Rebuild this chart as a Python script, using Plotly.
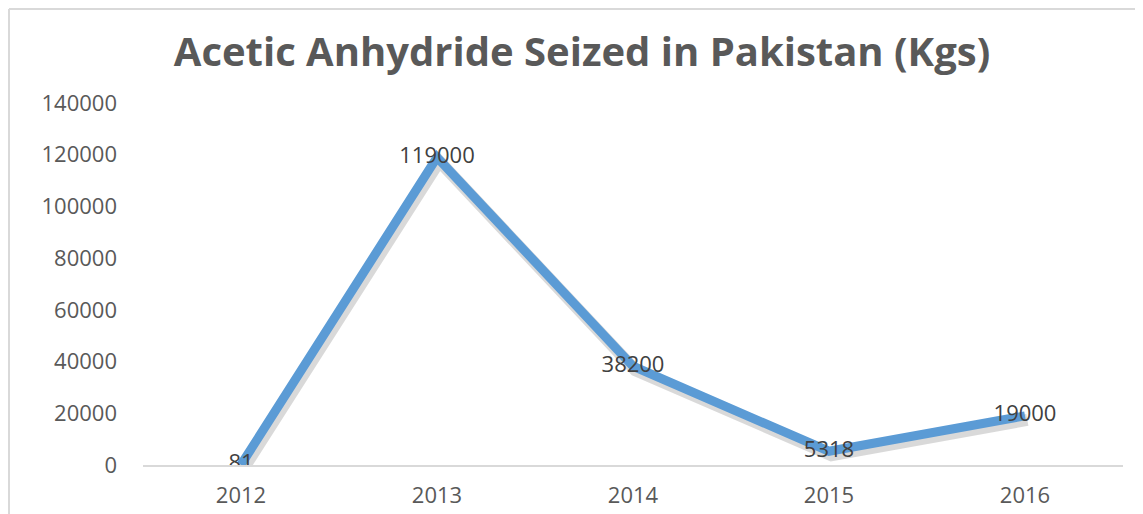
import plotly.graph_objects as go

years = ['2012', '2013', '2014', '2015', '2016']
seized_kgs = [81, 119000, 38200, 5318, 19000]
y_ticks = [0, 20000, 40000, 60000, 80000, 100000, 120000, 140000]

Y_MIN, Y_MAX = 0, 140000
# the page body adds 8px, so the figure is 8px smaller on each side
W, H = 1135, 506
L, R, T, B = 135, 20, 95, 49
plot_h = H - T - B
px = (Y_MAX - Y_MIN) / plot_h
shift = 4 * px  # shadow offset ~4px down

fig = go.Figure()

# invisible trace so the base axes get their ticks
fig.add_trace(go.Scatter(
    x=years, y=seized_kgs, mode='lines', opacity=0,
    hoverinfo='skip', showlegend=False))

# soft shadow, slightly shifted down and right
fig.add_trace(go.Scatter(
    x=years, y=seized_kgs, mode='lines',
    line=dict(color='rgba(0,0,0,0.15)', width=12),
    xaxis='x2', yaxis='y2',
    hoverinfo='skip', showlegend=False))

# main line and labels on top
fig.add_trace(go.Scatter(
    x=years, y=seized_kgs,
    mode='lines+text',
    text=[str(v) for v in seized_kgs],
    textposition='middle center',
    textfont=dict(family='Open Sans', size=22, color='#404040'),
    line=dict(color='#5B9BD5', width=9),
    xaxis='x3', yaxis='y3',
    showlegend=False))

fig.update_layout(
    width=W, height=H,
    margin=dict(l=L, r=R, t=T, b=B),
    paper_bgcolor='white', plot_bgcolor='white',
    title=dict(text='<b>Acetic Anhydride Seized in Pakistan (Kgs)</b>',
               x=574 / W, xanchor='center',
               y=1 - 44 / H, yanchor='middle',
               font=dict(family='Open Sans', size=40, color='#595959')),
    xaxis=dict(type='category', range=[-0.5, 4.5], showgrid=False,
               showline=True, linecolor='#d9d9d9', linewidth=2,
               ticks='', zeroline=False, ticklabelstandoff=10,
               automargin=False,
               tickfont=dict(family='Open Sans', size=22, color='#595959')),
    yaxis=dict(range=[Y_MIN, Y_MAX], tickvals=y_ticks,
               ticktext=[str(v) for v in y_ticks],
               showgrid=False, zeroline=False, showline=False, ticks='',
               ticklabelstandoff=25, automargin=False,
               tickfont=dict(family='Open Sans', size=22, color='#595959')),
    xaxis2=dict(type='category', range=[-0.5 - 0.012, 4.5 - 0.012],
                overlaying='x', visible=False),
    yaxis2=dict(range=[Y_MIN + shift, Y_MAX + shift],
                overlaying='y', visible=False),
    xaxis3=dict(type='category', range=[-0.5, 4.5],
                overlaying='x', visible=False),
    yaxis3=dict(range=[Y_MIN, Y_MAX],
                overlaying='y', visible=False),
)

# chart frame (top and left edges)
fx = (1 - L) / (W - L - R)
fy = 1 + (T - 1) / plot_h
fig.add_shape(type='line', xref='paper', yref='paper',
              x0=fx, x1=1.05, y0=fy, y1=fy,
              line=dict(color='#d9d9d9', width=2))
fig.add_shape(type='line', xref='paper', yref='paper',
              x0=fx, x1=fx, y0=-0.2, y1=fy,
              line=dict(color='#d9d9d9', width=2))

fig.write_html('out.html')
